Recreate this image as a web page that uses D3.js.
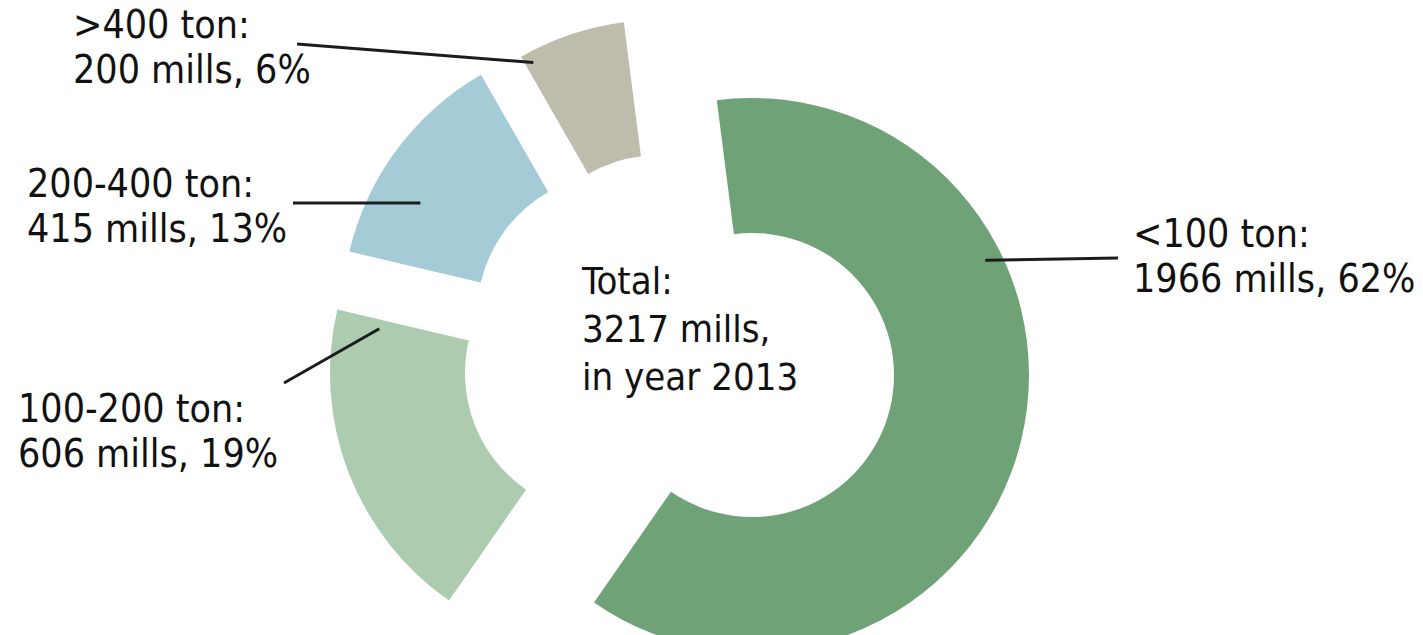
<!DOCTYPE html>
<html>
<head>
<meta charset="utf-8">
<style>
  body { margin: 0; background: #fff; }
  svg { display: block; }
  text { font-family: "DejaVu Sans Condensed", "DejaVu Sans", sans-serif; fill: #111; }
</style>
</head>
<body>
<svg width="1423" height="635"></svg>
<script src="https://d3js.org/d3.v7.min.js"></script>
<script>
// data
const categories = ["<100 ton", "100-200 ton", "200-400 ton", ">400 ton"];
const mills = [1966, 606, 415, 200];
const shares = ["62%", "19%", "13%", "6%"];
const totalLines = ["Total:", "3217 mills,", "in year 2013"];

// look
const colors = ["#6fa377", "#accbaf", "#a5cbd6", "#bebdac"];
// how far each slice is pulled out of the ring
const sliceOffset = [[97, 33], [-48, 31], [-36, -27], [4, -45]];
// leader: angle (deg) + radius on the slice, then label anchor
const leaders = [
  { a: 63.8, r: 260, x2: 1118, y2: 258, tx: 1133, ty: 247 },
  { a: 281, r: 232, x2: 284, y2: 383, tx: 18, ty: 422 },
  { a: 299.4, r: 228, x2: 293, y2: 203, tx: 27, ty: 197 },
  { a: 331.8, r: 266, x2: 297, y2: 44, tx: 73, ty: 38 }
];

const cx = 655, cy = 342;
const outerR = 277, innerR = 142;
const rad = Math.PI / 180;

const svg = d3.select("svg");
const g = svg.append("g").attr("transform", `translate(${cx},${cy})`);

const pie = d3.pie()
  .sort(null)
  .startAngle(-7.3 * rad)
  .endAngle((360 - 7.3) * rad);

const arc = d3.arc().innerRadius(innerR).outerRadius(outerR);

const slices = pie(mills);

g.selectAll("path.slice")
  .data(slices)
  .join("path")
  .attr("class", "slice")
  .attr("transform", (d, i) => `translate(${sliceOffset[i]})`)
  .attr("d", arc)
  .attr("fill", (d, i) => colors[i]);

// leader lines
slices.forEach((d, i) => {
  let s = sliceOffset[i];
  let L = leaders[i];
  let x1 = cx + s[0] + Math.sin(L.a * rad) * L.r;
  let y1 = cy + s[1] - Math.cos(L.a * rad) * L.r;
  svg.append("line")
    .attr("x1", x1).attr("y1", y1)
    .attr("x2", L.x2).attr("y2", L.y2)
    .attr("stroke", "#1c1c1c")
    .attr("stroke-width", 3);
});

// labels
const lineGap = 45;
categories.forEach((c, i) => {
  let L = leaders[i];
  let t = svg.append("text")
    .attr("x", L.tx).attr("y", L.ty)
    .style("font-size", "39px");
  t.append("tspan").attr("x", L.tx).text(c + ":");
  t.append("tspan").attr("x", L.tx).attr("dy", lineGap)
    .text(mills[i] + " mills, " + shares[i]);
});

// total in the hole
let tt = svg.append("text")
  .attr("x", 582).attr("y", 294)
  .style("font-size", "38px");
totalLines.forEach((s, i) => {
  tt.append("tspan").attr("x", 582).attr("dy", i ? 48 : 0).text(s);
});
</script>
</body>
</html>
